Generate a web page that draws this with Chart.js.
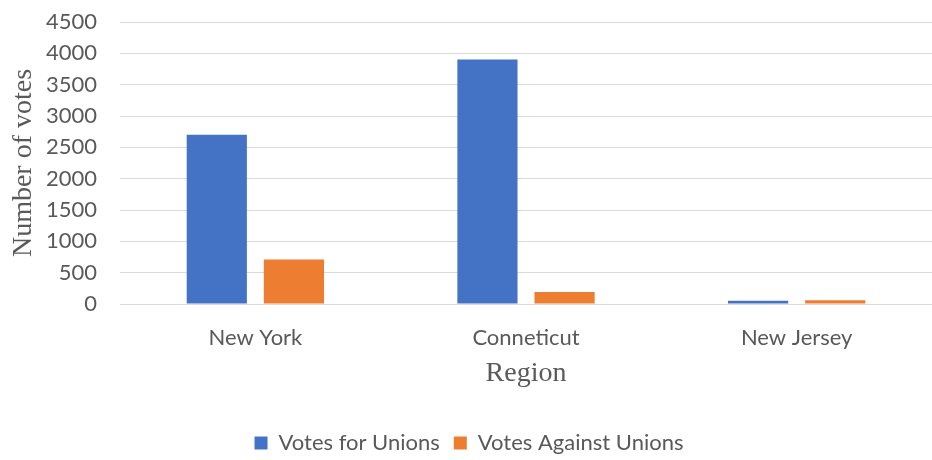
<!DOCTYPE html>
<html>
<head>
<meta charset="utf-8">
<script src="https://cdn.jsdelivr.net/npm/chart.js@4/dist/chart.umd.min.js"></script>
<style>
  html, body { margin: 0; padding: 0; background: #fff; }
  #wrap { width: 932px; height: 460px; }
</style>
</head>
<body>
<div id="wrap"><canvas id="chart" width="932" height="460"></canvas></div>
<script>
const regions = ["New York", "Conneticut", "New Jersey"];
const votesFor = [2700, 3900, 50];
const votesAgainst = [710, 190, 60];
const yTicks = [0, 500, 1000, 1500, 2000, 2500, 3000, 3500, 4000, 4500];

const gray = "#595959";
const tickFont = { family: "Lato, 'Open Sans', sans-serif", size: 22, lineHeight: 1 };
const titleFont = { family: "'Liberation Serif', serif", size: 28, lineHeight: 1 };

new Chart(document.getElementById("chart"), {
    type: "bar",
    data: {
        labels: regions,
        datasets: [
            { label: "Votes for Unions", data: votesFor, backgroundColor: "#4472c4" },
            { label: "Votes Against Unions", data: votesAgainst, backgroundColor: "#ed7d31" }
        ]
    },
    options: {
        responsive: false,
        animation: false,
        layout: { padding: { top: 0, right: 0, left: 6, bottom: -4 } },
        datasets: { bar: { categoryPercentage: 0.57, barPercentage: 0.78 } },
        plugins: {
            tooltip: { enabled: false },
            legend: {
                position: "bottom",
                labels: {
                    color: gray,
                    font: tickFont,
                    boxWidth: 13,
                    boxHeight: 13,
                    padding: 14
                }
            }
        },
        scales: {
            x: {
                grid: { display: false },
                border: { color: "#d9d9d9" },
                ticks: { color: gray, font: tickFont, padding: 15 },
                title: { display: true, text: "Region", color: gray, font: titleFont, padding: { top: -4, bottom: 30 } }
            },
            y: {
                min: 0,
                max: 4500,
                afterBuildTicks: axis => { axis.ticks = yTicks.map(v => ({ value: v })); },
                grid: { color: "#d9d9d9", drawTicks: true, tickLength: 12, tickColor: "rgba(0,0,0,0)" },
                border: { display: false },
                ticks: { color: gray, font: tickFont, padding: 11, autoSkip: false, callback: v => String(v) },
                title: { display: true, text: "Number of votes", color: gray, font: titleFont, padding: { top: 4, bottom: -3 } }
            }
        }
    }
});
</script>
</body>
</html>
